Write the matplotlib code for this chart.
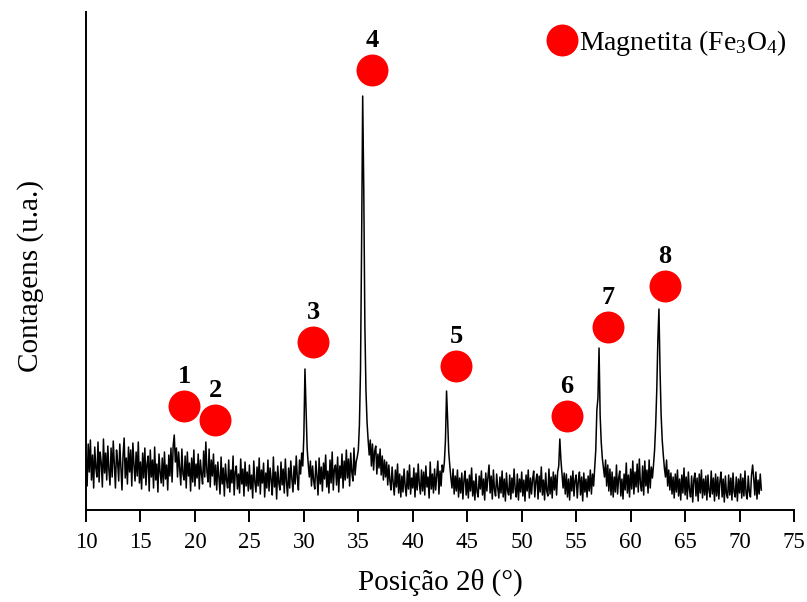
import numpy as np
import matplotlib
matplotlib.use("Agg")
import matplotlib.pyplot as plt
from matplotlib.lines import Line2D

plt.rcParams["font.family"] = ["Liberation Serif", "DejaVu Serif"]
plt.rcParams["mathtext.default"] = "regular"

# Diffractogram: intensity sampled every 0.1 deg from 10.0 to 72.0 (one row per degree)
angle_start, angle_step = 10.0, 0.1
counts = [
    50, 24, 66, 38, 70, 30, 55, 22, 63, 42,    # 10
    33, 68, 28, 58, 47, 23, 71, 37, 57, 30,    # 11
    64, 40, 25, 62, 33, 69, 46, 22, 60, 48,    # 12
    29, 66, 42, 20, 55, 72, 32, 52, 26, 63,    # 13
    38, 60, 24, 67, 45, 29, 58, 34, 68, 27,    # 14
    48, 21, 57, 32, 62, 25, 46, 54, 19, 60,    # 15
    33, 50, 22, 63, 30, 46, 18, 56, 38, 27,    # 16
    52, 24, 58, 31, 45, 20, 55, 34, 62, 28,    # 17
    64, 75, 48, 62, 33, 58, 42, 25, 61, 36,    # 18
    30, 54, 22, 58, 34, 47, 19, 52, 28, 60,    # 19
    24, 46, 32, 56, 21, 50, 36, 26, 59, 33,    # 20
    68, 38, 28, 61, 23, 50, 34, 56, 25, 45,    # 21
    20, 48, 33, 16, 53, 26, 42, 14, 46, 30,    # 22
    22, 50, 18, 40, 27, 54, 15, 38, 44, 21,    # 23
    36, 17, 51, 26, 41, 14, 48, 24, 38, 19,    # 24
    45, 21, 35, 12, 49, 28, 18, 43, 24, 52,    # 25
    16, 40, 27, 47, 13, 37, 22, 50, 19, 42,    # 26
    30, 15, 53, 23, 38, 11, 44, 27, 20, 48,    # 27
    25, 41, 17, 51, 28, 14, 42, 22, 49, 31,    # 28
    18, 44, 26, 54, 32, 20, 50, 36, 57, 44,    # 29
    75, 141, 100, 62, 46, 33, 49, 24, 44, 29,  # 30
    21, 49, 34, 15, 52, 26, 43, 19, 47, 31,    # 31
    55, 23, 39, 17, 50, 27, 58, 20, 41, 45,    # 32
    25, 53, 18, 44, 32, 56, 22, 49, 30, 60,    # 33
    32, 51, 24, 57, 38, 29, 62, 35, 48, 53,    # 34
    60, 85, 140, 265, 414, 320, 185, 120, 88, 70,  # 35
    55, 70, 44, 66, 40, 59, 64, 36, 56, 42,    # 36
    61, 35, 54, 30, 50, 33, 48, 25, 45, 29,    # 37
    20, 43, 27, 15, 40, 23, 46, 17, 36, 13,    # 38
    34, 18, 41, 24, 14, 39, 21, 45, 16, 32,    # 39
    22, 42, 13, 37, 20, 46, 26, 16, 40, 19,    # 40
    38, 15, 44, 23, 33, 12, 48, 21, 36, 17,    # 41
    41, 20, 34, 49, 16, 39, 24, 45, 38, 48,    # 42
    70, 119, 90, 58, 44, 32, 22, 41, 16, 34,   # 43
    19, 40, 13, 32, 17, 37, 11, 30, 39, 15,    # 44
    31, 12, 35, 19, 42, 14, 29, 10, 36, 18,    # 45
    13, 34, 21, 39, 15, 31, 10, 37, 19, 33,    # 46
    45, 17, 34, 11, 40, 20, 14, 36, 22, 12,    # 47
    33, 17, 39, 13, 31, 9, 37, 19, 15, 35,     # 48
    11, 32, 17, 41, 21, 13, 36, 10, 31, 18,    # 49
    38, 14, 30, 9, 35, 19, 40, 12, 32, 16,     # 50
    31, 39, 13, 29, 36, 11, 34, 18, 43, 15,    # 51
    30, 10, 37, 19, 14, 41, 16, 33, 12, 38,    # 52
    20, 35, 15, 38, 44, 71, 50, 36, 22, 37,    # 53
    16, 36, 13, 31, 10, 34, 19, 39, 14, 30,    # 54
    35, 12, 29, 38, 15, 33, 9, 37, 18, 31,     # 55
    13, 34, 19, 40, 16, 36, 24, 42, 60, 100,   # 56
    112, 162, 95, 68, 52, 42, 33, 50, 24, 45,  # 57
    19, 41, 15, 38, 13, 33, 18, 45, 16, 32,    # 58
    39, 14, 31, 11, 36, 20, 47, 17, 35, 13,    # 59
    41, 21, 49, 16, 38, 23, 46, 18, 51, 26,    # 60
    19, 44, 15, 49, 24, 40, 17, 50, 22, 43,    # 61
    32, 45, 60, 85, 120, 170, 201, 140, 95, 70,  # 62
    55, 42, 33, 50, 24, 40, 20, 37, 16, 33,    # 63
    12, 36, 18, 40, 14, 31, 10, 35, 17, 42,    # 64
    15, 33, 11, 38, 20, 13, 34, 8, 30, 37,     # 65
    14, 32, 9, 36, 17, 40, 12, 31, 15, 34,     # 66
    10, 35, 19, 13, 39, 16, 32, 9, 36, 14,     # 67
    33, 11, 29, 38, 13, 31, 8, 34, 16, 12,     # 68
    35, 15, 32, 10, 37, 18, 13, 33, 9, 31,     # 69
    17, 36, 12, 32, 14, 39, 16, 11, 34, 18,    # 70
    13, 35, 45, 32, 15, 38, 11, 30, 16, 36,    # 71
    20,                                        # 72
]
angles = np.round(angle_start + angle_step * np.arange(len(counts)), 1)

# Magnetite reflection markers and their numbers
peak_ids = ["1", "2", "3", "4", "5", "6", "7", "8"]
marker_angle = [19.0, 21.85, 30.85, 36.26, 43.98, 54.17, 57.93, 63.17]
marker_level = [104, 90, 168, 440, 144, 94, 183, 224]

x_ticks = list(range(10, 80, 5))

fig = plt.figure(figsize=(8.07, 6.02), dpi=100)
ax = fig.add_axes([0.1066, 0.1528, 0.8773, 0.8272])

ax.plot(angles, counts, color="black", lw=1.1)

ax.plot(marker_angle, marker_level, ls="none", marker="o", ms=23,
        color="red", mec="none")
for pid, mx, my in zip(peak_ids, marker_angle, marker_level):
    ax.annotate(pid, (mx, my), xytext=(0, 21.5), textcoords="offset points",
                ha="center", va="center", fontsize=19, fontweight="bold")

handle = Line2D([], [], ls="none", marker="o", ms=23, color="red", mec="none")
ax.legend([handle], ["Magnetita (Fe$_3$O$_4$)"], loc="center left",
          bbox_to_anchor=(0.6525, 0.938), frameon=False, fontsize=20,
          handlelength=1.0, handletextpad=0.1, borderpad=0, borderaxespad=0)

ax.set_xlim(10, 75)
ax.set_ylim(0, 498)
ax.set_xticks(x_ticks)
ax.set_yticks([])
ax.tick_params(axis="x", direction="out", length=8.6, width=1.4,
               labelsize=16.5, pad=7)
for side in ("top", "right"):
    ax.spines[side].set_visible(False)
for side in ("left", "bottom"):
    ax.spines[side].set_linewidth(1.4)

ax.set_xlabel("Posição 2θ (°)", fontsize=21)
ax.set_ylabel("Contagens (u.a.)", fontsize=21)
ax.xaxis.set_label_coords(0.5, -0.118)
ax.yaxis.set_label_coords(-0.06, 0.47)

fig.savefig("out.png", dpi=100)
